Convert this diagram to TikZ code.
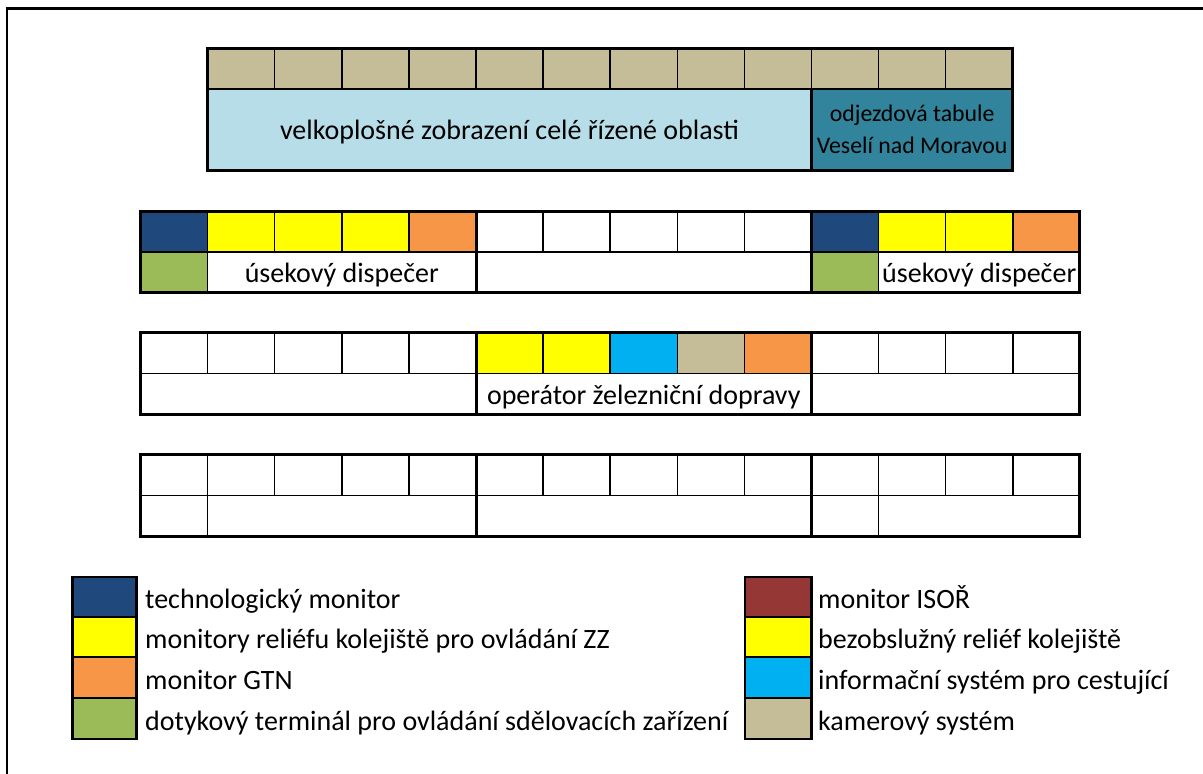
\documentclass[tikz,border=0pt]{standalone}
\usepackage{fontspec}
\setmainfont{Carlito}
\definecolor{camtan}{HTML}{C4BD97}
\definecolor{wallblue}{HTML}{B7DEE8}
\definecolor{boardteal}{HTML}{31849B}
\definecolor{technavy}{HTML}{1F497D}
\definecolor{reliefyellow}{HTML}{FFFF00}
\definecolor{gtnorange}{HTML}{F79646}
\definecolor{touchgreen}{HTML}{9BBB59}
\definecolor{infocyan}{HTML}{00B0F0}
\definecolor{isored}{HTML}{953735}

% grid: column i starts at 140.5 + i*67.1
\newcommand\colx[1]{140.5+(#1)*67.1}
% \cellbox{first column}{span}{top}{bottom}{fill}
\newcommand\cellbox[5]{%
  \filldraw[cellline,fill=#5] ({\colx{#1}},#3) rectangle ({\colx{#1+#2}},#4);}
% \groupbox{first column}{span}{top}{bottom}
\newcommand\groupbox[4]{%
  \draw[groupline] ({\colx{#1}},#3) rectangle ({\colx{#1+#2}},#4);}

\tikzset{
  cellline/.style={draw=black,line width=1.5pt},
  groupline/.style={draw=black,line width=3pt},
  bigtext/.style={font=\fontsize{28}{33}\selectfont,inner sep=0pt,anchor=base},
  smalltext/.style={font=\fontsize{23.8}{28}\selectfont,inner sep=0pt,anchor=base},
  legtext/.style={font=\fontsize{28}{33}\selectfont,inner sep=0pt,anchor=base west},
}

\begin{document}
\begin{tikzpicture}[x=1pt,y=-1pt]
\useasboundingbox (0,0) rectangle (1203,774);
\draw[line width=2.2pt] (7,774) -- (7,8.5) -- (1203,8.5);

% ---- wall display ----
\foreach \i in {1,...,12} {\cellbox{\i}{1}{48}{89}{camtan}}
\cellbox{1}{9}{89}{170}{wallblue}
\cellbox{10}{3}{89}{170}{boardteal}
\draw[groupline] ({\colx{10}},89) -- ({\colx{10}},170);
\groupbox{1}{12}{48}{170}
\node[bigtext] (wall) at ({\colx{5.5}},139) {velkoplošné zobrazení celé řízené oblasti};
\node[smalltext] (boardA) at ({\colx{11.5}},121.5) {odjezdová tabule};
\node[smalltext] (boardB) at ({\colx{11.5}},153) {Veselí nad Moravou};

% ---- desk 1: section dispatchers ----
\cellbox{0}{1}{211}{252}{technavy}
\foreach \i in {1,2,3} {\cellbox{\i}{1}{211}{252}{reliefyellow}}
\cellbox{4}{1}{211}{252}{gtnorange}
\foreach \i in {5,...,9} {\cellbox{\i}{1}{211}{252}{white}}
\cellbox{10}{1}{211}{252}{technavy}
\foreach \i in {11,12} {\cellbox{\i}{1}{211}{252}{reliefyellow}}
\cellbox{13}{1}{211}{252}{gtnorange}
\cellbox{0}{1}{252}{292.5}{touchgreen}
\cellbox{1}{4}{252}{292.5}{white}
\cellbox{5}{5}{252}{292.5}{white}
\cellbox{10}{1}{252}{292.5}{touchgreen}
\cellbox{11}{3}{252}{292.5}{white}
\groupbox{0}{5}{211}{292.5}
\groupbox{5}{5}{211}{292.5}
\groupbox{10}{4}{211}{292.5}
\node[bigtext] (dispA) at ({\colx{3}},282) {úsekový dispečer};
\node[bigtext] (dispB) at ({\colx{12.5}},282) {úsekový dispečer};

% ---- desk 2: rail traffic operator ----
\foreach \i in {0,...,4} {\cellbox{\i}{1}{332.5}{373.5}{white}}
\foreach \i in {5,6} {\cellbox{\i}{1}{332.5}{373.5}{reliefyellow}}
\cellbox{7}{1}{332.5}{373.5}{infocyan}
\cellbox{8}{1}{332.5}{373.5}{camtan}
\cellbox{9}{1}{332.5}{373.5}{gtnorange}
\foreach \i in {10,...,13} {\cellbox{\i}{1}{332.5}{373.5}{white}}
\cellbox{0}{5}{373.5}{414}{white}
\cellbox{5}{5}{373.5}{414}{white}
\cellbox{10}{4}{373.5}{414}{white}
\groupbox{0}{5}{332.5}{414}
\groupbox{5}{5}{332.5}{414}
\groupbox{10}{4}{332.5}{414}
\node[bigtext] (oper) at ({\colx{7.5}},404) {operátor železniční dopravy};

% ---- desk 3: spare ----
\foreach \i in {0,...,13} {\cellbox{\i}{1}{454}{495.5}{white}}
\cellbox{0}{1}{495.5}{536}{white}
\cellbox{1}{4}{495.5}{536}{white}
\cellbox{5}{5}{495.5}{536}{white}
\cellbox{10}{1}{495.5}{536}{white}
\cellbox{11}{3}{495.5}{536}{white}
\groupbox{0}{5}{454}{536}
\groupbox{5}{5}{454}{536}
\groupbox{10}{4}{454}{536}

% ---- legend ----
\filldraw[cellline,fill=technavy]    (72.5,577) rectangle (136.5,617);
\filldraw[cellline,fill=reliefyellow](72.5,617) rectangle (136.5,657);
\filldraw[cellline,fill=gtnorange]   (72.5,657) rectangle (136.5,698);
\filldraw[cellline,fill=touchgreen]  (72.5,698) rectangle (136.5,739);
\draw[line width=2.6pt] (72.5,577) rectangle (136.5,739);
\node[legtext] (lgA) at (145,608.5) {technologický monitor};
\node[legtext] (lgB) at (145,648.5) {monitory reliéfu kolejiště pro ovládání ZZ};
\node[legtext] (lgC) at (145,689) {monitor GTN};
\node[legtext] (lgD) at (145,730) {dotykový terminál pro ovládání sdělovacích zařízení};

\filldraw[cellline,fill=isored]      (745,577) rectangle (811.5,617);
\filldraw[cellline,fill=reliefyellow](745,617) rectangle (811.5,657);
\filldraw[cellline,fill=infocyan]    (745,657) rectangle (811.5,698);
\filldraw[cellline,fill=camtan]      (745,698) rectangle (811.5,739);
\draw[line width=2.6pt] (745,577) rectangle (811.5,739);
\node[legtext] (lgE) at (818,608.5) {monitor ISOŘ};
\node[legtext] (lgF) at (818,648.5) {bezobslužný reliéf kolejiště};
\node[legtext] (lgG) at (818,689) {informační systém pro cestující};
\node[legtext] (lgH) at (818,730) {kamerový systém};
\end{tikzpicture}
\end{document}
